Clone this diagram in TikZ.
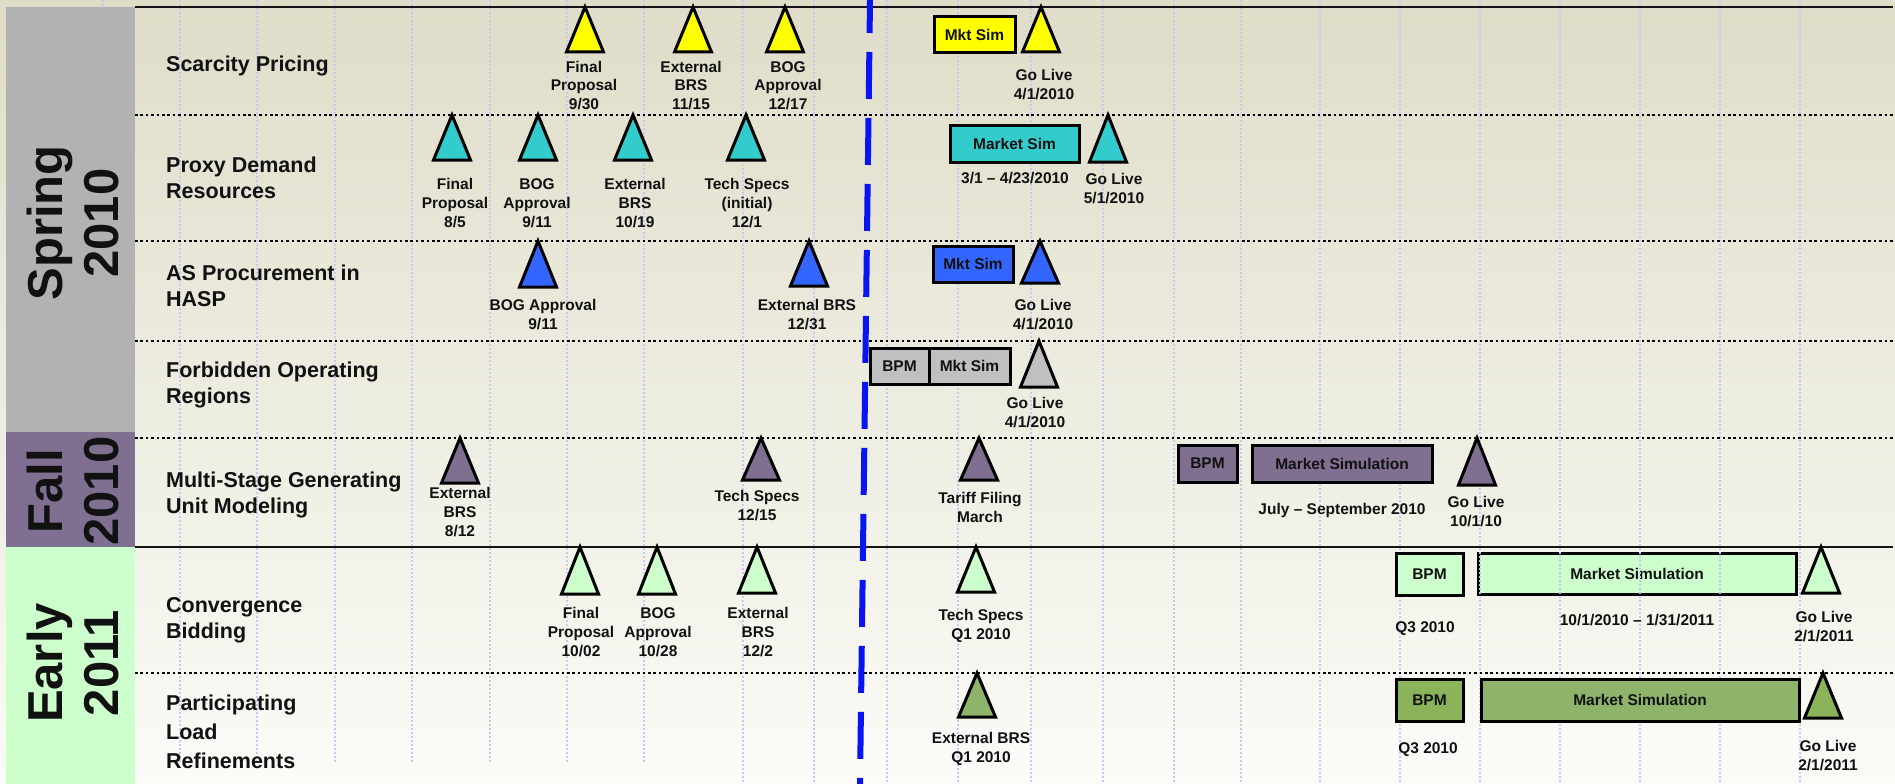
\documentclass[tikz,border=0pt]{standalone}
\usepackage{fontspec}
\setmainfont{Liberation Sans}
\definecolor{bgtop}{HTML}{DFDDC8}
\definecolor{bgbot}{HTML}{FBFBF8}
\definecolor{gridc}{HTML}{C8C8F2}
\definecolor{springc}{HTML}{B2B2B2}
\definecolor{fallc}{HTML}{7F7092}
\definecolor{earlyc}{HTML}{CCFFCC}
\definecolor{yel}{HTML}{FFFF00}
\definecolor{teal}{HTML}{33CCCC}
\definecolor{blu}{HTML}{3366FF}
\definecolor{gry}{HTML}{C0C0C0}
\definecolor{purp}{HTML}{7F7092}
\definecolor{lgreen}{HTML}{CCFFCC}
\definecolor{dgreen}{HTML}{8FB36B}
\definecolor{dgreenb}{HTML}{8BB45A}
\definecolor{bline}{HTML}{0814F2}
\definecolor{txt}{HTML}{111111}
\newcommand\clab[1]{\begin{tabular}[t]{@{}c@{}}#1\end{tabular}}
\newcommand\llab[1]{\begin{tabular}[t]{@{}l@{}}#1\end{tabular}}
\newcommand\plab[1]{\begin{tabular}[c]{@{}c@{}}#1\end{tabular}}
\newcommand\tri[5]{\draw[tri, fill=#5] (#2,#3) -- ++(18.5,#4-#3) -- ++(-37,0) -- cycle; \coordinate (#1) at (#2,#4);}
\begin{document}
\begin{tikzpicture}[x=1pt,y=-1pt,
  hline/.style={black, line width=2.6pt, dash pattern=on 2.6pt off 2.8pt},
  solidline/.style={black!92, line width=2.8pt},
  gridline/.style={gridc, line width=1.6pt, dash pattern=on 1.6pt off 2.4pt},
  blueline/.style={bline, line width=6pt, dash pattern=on 47pt off 19pt, dash phase=14pt},
  tri/.style={draw=black, line width=3pt, line join=miter},
  box/.style={draw=black, line width=3pt, inner sep=0pt, text=txt, font=\bfseries\fontsize{15.5}{19}\selectfont},
  lab/.style={inner sep=0pt, anchor=base, text=txt, font=\bfseries\fontsize{15.5}{19}\selectfont},
  rowlab/.style={inner sep=0pt, anchor=base west, text=txt, font=\bfseries\fontsize{21.5}{26}\selectfont},
  period/.style={inner sep=0pt, rotate=90, text=txt, font=\bfseries\fontsize{49}{56}\selectfont}]
\useasboundingbox (0,0) rectangle (1895,784);
\shade[top color=bgtop, bottom color=bgbot] (0,0) rectangle (1895,784);
% box lying under the grid
\node[box, fill=lgreen, minimum width=318, minimum height=41] (cbms) at (1637,573.5) {Market Simulation};
% grid
\foreach \gx in {103,180,257,335,412,490,567,644}
  \draw[gridline] (\gx,0) -- (\gx,762);
\foreach \gx in {743,814,887,958,1031,1103,1174,1241,1320,1400,1480,1560,1640,1720,1800}
  \draw[gridline] (\gx,0) -- (\gx,784);
% horizontal rules
\draw[solidline] (135,7) -- (1893,7);
\draw[solidline] (135,547) -- (1893,547);
\foreach \hy in {115,241,341,438,673}
  \draw[hline] (135,\hy) -- (1893,\hy);
% period bands
\fill[springc] (6,7) rectangle (135,432);
\fill[fallc] (6,432) rectangle (135,547);
\fill[earlyc] (6,547) rectangle (135,784);
\node[period] (pspring) at (79,223) {\plab{Spring\\2010}};
\node[period] (pfall) at (79,491) {\plab{Fall\\2010}};
\node[period] (pearly) at (79,663) {\plab{Early\\2011}};
% row labels
\node[rowlab] (r1) at (166,71) {Scarcity Pricing};
\node[rowlab] (r2) at (166,172) {\llab{Proxy Demand\\Resources}};
\node[rowlab] (r3) at (166,280) {\llab{AS Procurement in\\HASP}};
\node[rowlab] (r4) at (166,377) {\llab{Forbidden Operating\\Regions}};
\node[rowlab] (r5) at (166,487) {\llab{Multi-Stage Generating\\Unit Modeling}};
\node[rowlab] (r6) at (166,612) {\llab{Convergence\\Bidding}};
\node[rowlab, font=\bfseries\fontsize{21.5}{29}\selectfont] (r7) at (166,710) {\llab{Participating\\Load\\Refinements}};
% today line
\coordinate (bt) at (870,0);
\coordinate (bb) at (860,784);
\draw[blueline] (bt) -- (bb);
% row 1: Scarcity Pricing
\tri{t11}{585}{7}{52}{yel}
\tri{t12}{693}{7}{52}{yel}
\tri{t13}{785}{7}{52}{yel}
\tri{t14}{1041}{7}{52}{yel}
\node[box, fill=yel, minimum width=81, minimum height=36] (b11) at (974.5,35) {Mkt Sim};
\node[lab] (l11) at (584,72) {\clab{Final\\Proposal\\9/30}};
\node[lab] (l12) at (691,72) {\clab{External\\BRS\\11/15}};
\node[lab] (l13) at (788,72) {\clab{BOG\\Approval\\12/17}};
\node[lab] (l14) at (1044,81) {\clab{Go Live\\4/1/2010}};
% row 2: Proxy Demand Resources
\tri{t21}{452}{115}{160}{teal}
\tri{t22}{538}{115}{160}{teal}
\tri{t23}{633}{115}{160}{teal}
\tri{t24}{746}{115}{160}{teal}
\tri{t25}{1108}{115}{162}{teal}
\node[box, fill=teal, minimum width=129, minimum height=37] (b21) at (1014.5,143.5) {Market Sim};
\node[lab] (l21) at (455,189) {\clab{Final\\Proposal\\8/5}};
\node[lab] (l22) at (537,189) {\clab{BOG\\Approval\\9/11}};
\node[lab] (l23) at (635,189) {\clab{External\\BRS\\10/19}};
\node[lab] (l24) at (747,189) {\clab{Tech Specs\\(initial)\\12/1}};
\node[lab] (l25) at (1015,183) {3/1 – 4/23/2010};
\node[lab] (l26) at (1114,184) {\clab{Go Live\\5/1/2010}};
% row 3: AS Procurement in HASP
\tri{t31}{538}{241}{287}{blu}
\tri{t32}{809}{241}{286}{blu}
\tri{t33}{1040}{241}{283}{blu}
\node[box, fill=blu, minimum width=80, minimum height=36] (b31) at (973,264) {Mkt Sim};
\node[lab] (l31) at (543,310) {\clab{BOG Approval\\9/11}};
\node[lab] (l32) at (807,310) {\clab{External BRS\\12/31}};
\node[lab] (l33) at (1043,310) {\clab{Go Live\\4/1/2010}};
% row 4: Forbidden Operating Regions
\node[box, fill=gry, minimum width=59, minimum height=36] (b41) at (899.5,366) {BPM};
\node[box, fill=gry, minimum width=81, minimum height=36] (b42) at (969.5,366) {Mkt Sim};
\tri{t41}{1039}{341}{387}{gry}
\node[lab] (l41) at (1035,408) {\clab{Go Live\\4/1/2010}};
% row 5: Multi-Stage Generating Unit Modeling
\tri{t51}{460}{438}{483}{purp}
\tri{t52}{761}{438}{480}{purp}
\tri{t53}{979}{438}{480}{purp}
\tri{t54}{1477}{438}{485}{purp}
\node[box, fill=purp, minimum width=59, minimum height=37] (b51) at (1207.5,463.5) {BPM};
\node[box, fill=purp, minimum width=180, minimum height=37] (b52) at (1342,463.5) {Market Simulation};
\node[lab] (l51) at (460,498) {\clab{External\\BRS\\8/12}};
\node[lab] (l52) at (757,501) {\clab{Tech Specs\\12/15}};
\node[lab] (l53) at (980,503) {\clab{Tariff Filing\\March}};
\node[lab] (l54) at (1342,514) {July – September 2010};
\node[lab] (l55) at (1476,507) {\clab{Go Live\\10/1/10}};
% row 6: Convergence Bidding
\tri{t61}{580}{547}{594}{lgreen}
\tri{t62}{657}{547}{594}{lgreen}
\tri{t63}{757}{547}{593}{lgreen}
\tri{t64}{976}{547}{592}{lgreen}
\tri{t65}{1821}{547}{593}{lgreen}
\node[box, fill=lgreen, minimum width=67, minimum height=42] (b61) at (1429.5,574) {BPM};
\node[lab] (l61) at (581,618) {\clab{Final\\Proposal\\10/02}};
\node[lab] (l62) at (658,618) {\clab{BOG\\Approval\\10/28}};
\node[lab] (l63) at (758,618) {\clab{External\\BRS\\12/2}};
\node[lab] (l64) at (981,620) {\clab{Tech Specs\\Q1 2010}};
\node[lab] (l65) at (1425,632) {Q3 2010};
\node[lab] (l66) at (1637,625) {10/1/2010 – 1/31/2011};
\node[lab] (l67) at (1824,622) {\clab{Go Live\\2/1/2011}};
% row 7: Participating Load Refinements
\tri{t71}{977}{673}{717}{dgreen}
\tri{t72}{1823}{673}{718}{dgreenb}
\node[box, fill=dgreenb, minimum width=67, minimum height=42] (b71) at (1429.5,700) {BPM};
\node[box, fill=dgreen, minimum width=318, minimum height=42] (b72) at (1640,700) {Market Simulation};
\node[lab] (l71) at (981,743) {\clab{External BRS\\Q1 2010}};
\node[lab] (l72) at (1428,753) {Q3 2010};
\node[lab] (l73) at (1828,751) {\clab{Go Live\\2/1/2011}};
\end{tikzpicture}
\end{document}
